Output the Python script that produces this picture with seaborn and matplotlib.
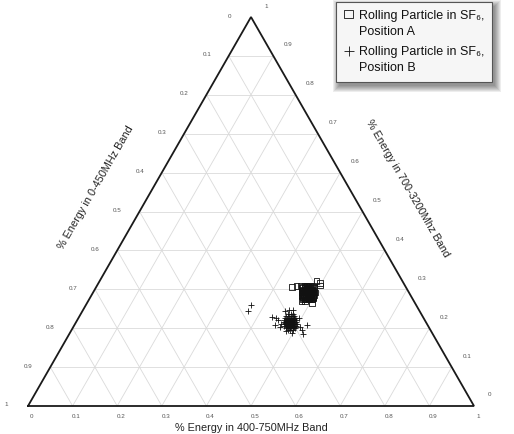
import numpy as np
import pandas as pd
import matplotlib
matplotlib.use("Agg")
import matplotlib.pyplot as plt
from matplotlib.patches import Rectangle
from matplotlib.transforms import IdentityTransform
import seaborn as sns

# ---------------- data (ternary fractions) ----------------
# each point: share of energy in the 400-750MHz band and in the 700-3200MHz band;
# the 0-450MHz share is the remainder.
posA_400_750 = [0.465, 0.471, 0.478, 0.485,
                0.464, 0.470, 0.477, 0.484,
                0.463, 0.470, 0.476, 0.483, 0.490,
                0.468, 0.474, 0.481, 0.488,
                0.468, 0.475, 0.481, 0.488, 0.495,
                0.473, 0.479, 0.486, 0.493,
                0.473, 0.480, 0.487, 0.493, 0.498,
                0.480, 0.487, 0.494, 0.500,
                0.479, 0.486, 0.493, 0.499,
                0.485, 0.492, 0.498,
                0.469, 0.474, 0.480, 0.487, 0.494, 0.498,
                0.467, 0.471, 0.480, 0.487, 0.491,
                0.472, 0.476, 0.485, 0.492, 0.499,
                0.475, 0.482,
                0.477, 0.483, 0.492, 0.499,
                0.439, 0.448, 0.458, 0.497, 0.486, 0.486, 0.504, 0.470, 0.500, 0.478]
posA_700_3200 = [0.309, 0.309, 0.309, 0.309,
                 0.306, 0.306, 0.306, 0.306,
                 0.303, 0.303, 0.303, 0.303, 0.303,
                 0.298, 0.298, 0.298, 0.298,
                 0.293, 0.293, 0.293, 0.293, 0.293,
                 0.288, 0.288, 0.288, 0.288,
                 0.283, 0.283, 0.283, 0.283, 0.283,
                 0.278, 0.278, 0.278, 0.278,
                 0.275, 0.275, 0.275, 0.275,
                 0.273, 0.273, 0.273,
                 0.291, 0.291, 0.291, 0.291, 0.291, 0.291,
                 0.296, 0.296, 0.296, 0.296, 0.296,
                 0.285, 0.285, 0.285, 0.285, 0.285,
                 0.301, 0.301,
                 0.280, 0.280, 0.280, 0.280,
                 0.306, 0.308, 0.309, 0.316, 0.321, 0.270, 0.265, 0.310, 0.310, 0.270]

posB_400_750 = [0.465, 0.471, 0.476,
                0.463, 0.470, 0.476, 0.481,
                0.463, 0.470, 0.474, 0.481, 0.486,
                0.469, 0.478, 0.485,
                0.463, 0.470, 0.475, 0.479, 0.486, 0.490,
                0.469, 0.478, 0.485,
                0.466, 0.470, 0.475, 0.479, 0.484, 0.488, 0.493,
                0.470, 0.479, 0.487,
                0.471, 0.475, 0.480, 0.484, 0.489, 0.493, 0.498,
                0.479, 0.488,
                0.471, 0.476, 0.480, 0.485, 0.489, 0.494, 0.498,
                0.479, 0.486, 0.495,
                0.478, 0.485, 0.489, 0.494, 0.498,
                0.485, 0.490, 0.496,
                0.450, 0.462, 0.495, 0.508, 0.498, 0.482, 0.462,
                0.433, 0.443, 0.450, 0.464, 0.517, 0.522, 0.524, 0.454, 0.471, 0.370,
                0.371]
posB_700_3200 = [0.237, 0.237, 0.237,
                 0.231, 0.231, 0.231, 0.231,
                 0.226, 0.226, 0.226, 0.226, 0.226,
                 0.224, 0.224, 0.224,
                 0.221, 0.221, 0.221, 0.221, 0.221, 0.221,
                 0.219, 0.219, 0.219,
                 0.216, 0.216, 0.216, 0.216, 0.216, 0.216, 0.216,
                 0.213, 0.213, 0.213,
                 0.211, 0.211, 0.211, 0.211, 0.211, 0.211, 0.211,
                 0.208, 0.208,
                 0.206, 0.206, 0.206, 0.206, 0.206, 0.206, 0.206,
                 0.203, 0.203, 0.203,
                 0.201, 0.201, 0.201, 0.201, 0.201,
                 0.195, 0.195, 0.195,
                 0.221, 0.211, 0.226, 0.203, 0.188, 0.193, 0.247,
                 0.229, 0.226, 0.208, 0.203, 0.195, 0.208, 0.185, 0.244, 0.247, 0.260,
                 0.244]

series_labels = ["Rolling Particle in SF\u2086,\nPosition A",
                 "Rolling Particle in SF\u2086,\nPosition B"]
tick_values = [0, 0.1, 0.2, 0.3, 0.4, 0.5, 0.6, 0.7, 0.8, 0.9, 1]
tick_labels = ["0", "0.1", "0.2", "0.3", "0.4", "0.5", "0.6", "0.7", "0.8", "0.9", "1"]
label_bottom = "% Energy in 400-750MHz Band"
label_left = "% Energy in 0-450MHz Band"
label_right = "% Energy in 700-3200Mhz Band"

# ---------------- helpers ----------------
S3 = np.sqrt(3) / 2


def to_xy(mid, high):
    mid = np.asarray(mid, dtype=float)
    high = np.asarray(high, dtype=float)
    return mid + high / 2, high * S3


dfA = pd.DataFrame({"m": posA_400_750, "h": posA_700_3200})
dfA["low"] = 1 - dfA.m - dfA.h
dfA["x"], dfA["y"] = to_xy(dfA.m, dfA.h)
dfB = pd.DataFrame({"m": posB_400_750, "h": posB_700_3200})
dfB["low"] = 1 - dfB.m - dfB.h
dfB["x"], dfB["y"] = to_xy(dfB.m, dfB.h)

# ---------------- figure ----------------
sns.set_theme(style="white")
plt.rcParams["font.family"] = ["Liberation Sans", "DejaVu Sans"]

W, H = 514, 434
PX = 446.0          # pixels per unit in x
PY = 389.0 / S3     # pixels per unit in y
X0, Y0 = 28, 406    # pixel position of bottom-left vertex

fig = plt.figure(figsize=(W / 100, H / 100), dpi=100)
ax = fig.add_axes([0, 0, 1, 1])
ax.set_xlim(-X0 / PX, (W - X0) / PX)
ax.set_ylim(-(H - Y0) / PY, Y0 / PY)
ax.axis("off")

grid_kw = dict(color="#dadada", lw=0.6, zorder=1)
for v in tick_values[1:-1]:
    xs, ys = to_xy([0, 1 - v], [v, v])          # constant 700-3200
    ax.plot(xs, ys, **grid_kw)
    xs, ys = to_xy([v, v], [0, 1 - v])          # constant 400-750
    ax.plot(xs, ys, **grid_kw)
    xs, ys = to_xy([1 - v, 0], [0, 1 - v])      # constant 0-450
    ax.plot(xs, ys, **grid_kw)

xs, ys = to_xy([0, 1, 0, 0], [0, 0, 1, 0])
ax.plot(xs, ys, color="#1a1a1a", lw=1.3, zorder=3, solid_joinstyle="miter")

tick_kw = dict(fontsize=4.5, color="#555555", ha="center", va="center")
for v, t in zip(tick_values, tick_labels):
    bx, by = to_xy(v, 0)
    ax.text(bx + 4 / PX, by - 11 / PY, t, **tick_kw)
    lx, ly = to_xy(0, 1 - v)
    ax.text(lx - 22 / PX, ly + 1 / PY, t, **tick_kw)
    rx, ry = to_xy(1 - v, v)
    ax.text(rx + 15 / PX, ry + 11 / PY, t, **tick_kw)

ax.text(0.5, -22 / PY, label_bottom, fontsize=7.8, color="#222222", ha="center", va="center")
ax.text((96 - X0) / PX, (Y0 - 188) / PY, label_left, fontsize=7.8, color="#222222",
        ha="center", va="center", rotation=60, rotation_mode="anchor")
ax.text((408 - X0) / PX, (Y0 - 188) / PY, label_right, fontsize=7.8, color="#222222",
        ha="center", va="center", rotation=-60, rotation_mode="anchor")

sns.scatterplot(data=dfA, x="x", y="y", ax=ax, marker="s", s=15, facecolor="none",
                edgecolor="#111111", linewidth=0.6, label=series_labels[0], zorder=4)
sns.scatterplot(data=dfB, x="x", y="y", ax=ax, marker="+", s=22, color="#111111",
                linewidth=0.6, label=series_labels[1], zorder=4)

leg = ax.legend(loc="upper right", bbox_to_anchor=(492 / W, 1 - 2 / H),
                bbox_transform=fig.transFigure, borderaxespad=0, fontsize=9,
                frameon=True, fancybox=False, facecolor="#f6f6f6", edgecolor="#555555",
                framealpha=1, shadow=False,
                markerscale=1.5, scatterpoints=1, scatteryoffsets=[1.6],
                handlelength=0.8, handletextpad=0.45, labelspacing=0.7,
                borderpad=0.6)
leg.get_frame().set_linewidth(0.8)
leg.set_zorder(10)
for t in leg.get_texts():
    t.set_linespacing(1.45)
    t.set_color("#111111")

# soft drop shadow behind the legend box
fig.canvas.draw()
bb = leg.get_window_extent()
for i in range(7):
    ax.add_patch(Rectangle((bb.x0 + 3 - i, bb.y0 - 4 - i), bb.width + 2 * i, bb.height + 2 * i,
                           transform=IdentityTransform(), facecolor="black",
                           edgecolor="none", alpha=0.07, zorder=9))

fig.savefig("out.png", dpi=100, facecolor="white")
